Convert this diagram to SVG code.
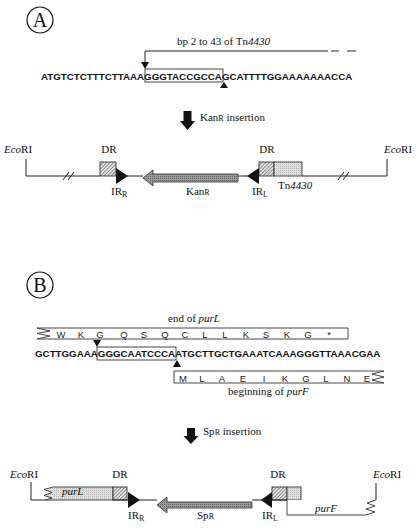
<svg xmlns="http://www.w3.org/2000/svg" width="416" height="529" viewBox="0 0 416 529">
<style>
.t{font-family:"Liberation Serif","Times New Roman",serif;font-size:11px;fill:#111}
.i{font-style:italic}
.s{font-size:8px}
.seq{font-family:"Liberation Sans",Arial,sans-serif;font-weight:bold;font-size:9.75px;fill:#111}
.aa{font-family:"Liberation Sans",Arial,sans-serif;font-size:9.5px;fill:#222;text-anchor:middle}
.ln{fill:none;stroke:#222;stroke-width:1}
.bx{stroke:#333;stroke-width:0.9}
.blk{fill:#111;stroke:none}
.mid{text-anchor:middle}
</style>
<defs>
<pattern id="hatch" width="2.5" height="2.5" patternUnits="userSpaceOnUse" patternTransform="rotate(45)">
<rect width="2.5" height="2.5" fill="#e6e6e6"/>
<line x1="0" y1="0" x2="0" y2="2.5" stroke="#444" stroke-width="1.1"/>
</pattern>
<pattern id="dots" width="2" height="2" patternUnits="userSpaceOnUse">
<rect width="2" height="2" fill="#e0e0e0"/>
<rect width="1" height="1" fill="#b8b8b8"/>
</pattern>
<pattern id="darkdots" width="2" height="2" patternUnits="userSpaceOnUse">
<rect width="2" height="2" fill="#9a9a9a"/>
<rect width="1" height="1" fill="#666"/>
</pattern>
</defs>

<g id="panelA-label">
<circle cx="40" cy="20" r="13" fill="none" stroke="#111" stroke-width="1.2"/>
<text class="t mid" x="40" y="27" style="font-size:20px">A</text>
</g>

<g id="seqA">
<text class="t" x="177" y="45">bp 2 to 43 of Tn<tspan class="i">4430</tspan></text>
<text class="seq" x="41" y="80">ATGTCTCTTTCTTAAAGGGTACCGCCAGCATTTTGGAAAAAAACCA</text>
<rect class="bx" x="145" y="69" width="78" height="13" fill="none"/>
</g>

<g id="arrowA">
<polygon class="blk" points="183.5,111 191.5,111 191.5,121 195,121 187.5,130 180,121 183.5,121"/>
<text class="t" x="200" y="121">Kan<tspan class="s" dy="-0.5">R</tspan><tspan dy="0.5"> insertion</tspan></text>
</g>

<g id="constructA">
<text class="t" x="4" y="153"><tspan class="i">Eco</tspan>RI</text>
<text class="t" x="384" y="153"><tspan class="i">Eco</tspan>RI</text>
<text class="t mid" x="109" y="153">DR</text>
<text class="t mid" x="267" y="153">DR</text>
<rect class="bx" x="100" y="162" width="16" height="14" fill="url(#hatch)"/>
<rect class="bx" x="259" y="162" width="15" height="14" fill="url(#hatch)"/>
<rect class="bx" x="274" y="162" width="28" height="14" fill="url(#dots)"/>
<polygon class="blk" points="116,168 116,184 128,176"/>
<polygon class="blk" points="259,168 259,184 247,176"/>
<polygon points="143,178 153,170 153,174 238,174 238,182 153,182 153,186" fill="url(#darkdots)" stroke="#444" stroke-width="0.9"/>
<text class="t" x="111" y="195">IR<tspan class="s" dy="2">R</tspan></text>
<text class="t" x="186" y="195">Kan<tspan class="s" dy="-0.5">R</tspan></text>
<text class="t" x="252" y="195">IR<tspan class="s" dy="2">L</tspan></text>
<text class="t" x="278" y="189">Tn<tspan class="i">4430</tspan></text>
</g>

<g id="panelB-label">
<circle cx="40" cy="285" r="13" fill="none" stroke="#111" stroke-width="1.2"/>
<text class="t mid" x="40" y="292" style="font-size:20px">B</text>
</g>

<g id="purL-protein">
<text class="t" x="168" y="322">end of <tspan class="i">purL</tspan></text>
<path class="bx" d="M348,328 H37 L50,331 L37,333.5 L50,336 L37,339 H348 Z" fill="#fff"/>
<text class="aa" y="337.5"><tspan x="61">W</tspan><tspan x="81">K</tspan><tspan x="100">G</tspan><tspan x="124">Q</tspan><tspan x="144">S</tspan><tspan x="165">Q</tspan><tspan x="185">C</tspan><tspan x="205">L</tspan><tspan x="225">L</tspan><tspan x="246">K</tspan><tspan x="266">S</tspan><tspan x="287">K</tspan><tspan x="308">G</tspan><tspan x="329">*</tspan></text>
</g>

<g id="seqB">
<text class="seq" x="35" y="357">GCTTGGAAAGGGCAATCCCAATGCTTGCTGAAATCAAAGGGTTAAACGAA</text>
<rect class="bx" x="97" y="347" width="79" height="13" fill="none"/>
</g>

<g id="purF-protein">
<path class="bx" d="M174,371 H384 L372,374 L384,377 L372,380 L384,383 H174 Z" fill="#fff"/>
<text class="aa" y="381.5"><tspan x="183">M</tspan><tspan x="202">L</tspan><tspan x="222">A</tspan><tspan x="243">E</tspan><tspan x="264">I</tspan><tspan x="285">K</tspan><tspan x="306">G</tspan><tspan x="326">L</tspan><tspan x="347">N</tspan><tspan x="367">E</tspan></text>
<text class="t" x="228" y="395">beginning of <tspan class="i">purF</tspan></text>
</g>

<g id="arrowB">
<polygon class="blk" points="187,428 195,428 195,436 198.5,436 191,444 183.5,436 187,436"/>
<text class="t" x="203" y="435">Sp<tspan class="s" dy="-0.5">R</tspan><tspan dy="0.5"> insertion</tspan></text>
</g>

<g id="constructB">
<text class="t" x="10" y="478"><tspan class="i">Eco</tspan>RI</text>
<text class="t" x="373" y="478"><tspan class="i">Eco</tspan>RI</text>
<text class="t mid" x="120" y="478">DR</text>
<text class="t mid" x="278" y="478">DR</text>
<path class="bx" d="M113,487 H53 L44,489.5 L52,492.5 L44,495.5 L52,498 L45,500 H113 Z" fill="url(#dots)"/>
<text class="t i" x="62" y="495">purL</text>
<rect class="bx" x="113" y="487" width="14" height="13" fill="url(#hatch)"/>
<rect class="bx" x="272" y="487" width="15" height="13" fill="url(#hatch)"/>
<rect class="bx" x="287" y="487" width="14" height="13" fill="url(#dots)"/>
<path class="bx" d="M287,500 V515 H366 L375,512 L366,509 L375,506 L367,503 L376,500" fill="#fff"/>
<text class="t i" x="315" y="512">purF</text>
<polygon class="blk" points="128,492 128,508 140,500"/>
<polygon class="blk" points="272,492 272,508 261,500"/>
<polygon points="157,505 167,497 167,502 252,502 252,508 167,508 167,513" fill="url(#darkdots)" stroke="#444" stroke-width="0.9"/>
<text class="t" x="128" y="519">IR<tspan class="s" dy="2">R</tspan></text>
<text class="t" x="197" y="519">Sp<tspan class="s" dy="-0.5">R</tspan></text>
<text class="t" x="262" y="519">IR<tspan class="s" dy="2">L</tspan></text>
</g>

<g id="connectors">
<path class="ln" d="M145,62 V51 H328"/>
<path class="ln" d="M331,51 H339 M347,51 H356"/>
<polygon class="blk" points="141,62 149,62 145,69"/>
<polygon class="blk" points="224,82 220,88 228,88"/>
<path class="ln" d="M26,159 V176 H100 M116,176 H143 M238,176 H259 M302,176 H387 V159"/>
<path class="ln" d="M63,180 L69,172 M68,180 L74,172 M338,180 L344,172 M343,180 L349,172"/>
<polygon class="blk" points="93,340 101,340 97,347"/>
<polygon class="blk" points="177,360 173,367 181,367"/>
<path class="ln" d="M31,482 V500 H45 M113,500 H157 M252,500 H287 M376,500 V483"/>
</g>
</svg>
